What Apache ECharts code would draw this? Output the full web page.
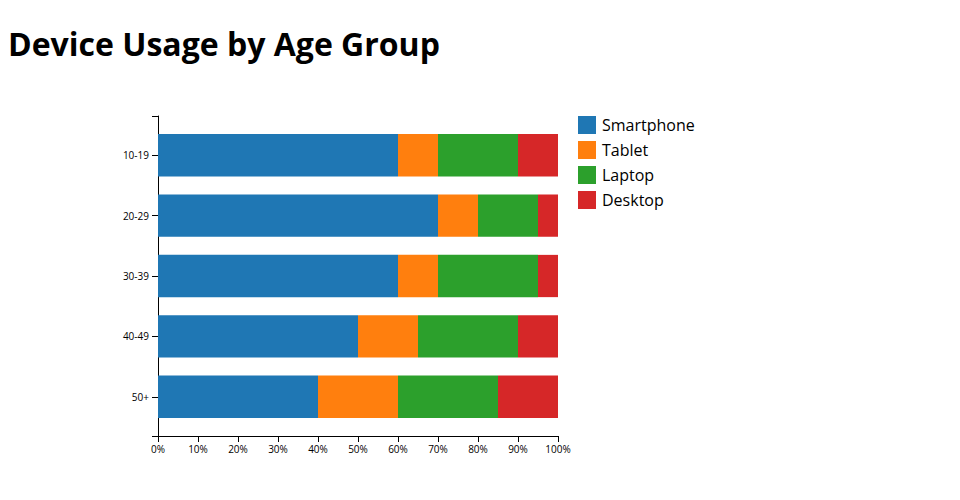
<!DOCTYPE html>
<html>
<head>
<meta charset="utf-8">
<script src="https://cdn.jsdelivr.net/npm/echarts@6/dist/echarts.min.js"></script>
<style>
html,body{margin:0;padding:0;background:#fff;}
#chart{width:960px;height:500px;}
</style>
</head>
<body>
<div id="chart"></div>
<script>
const categories = ['10-19', '20-29', '30-39', '40-49', '50+'];
const smartphone = [60, 70, 60, 50, 40];
const tablet = [10, 10, 10, 15, 20];
const laptop = [20, 15, 25, 25, 25];
const desktop = [10, 5, 5, 10, 15];
const seriesNames = ['Smartphone', 'Tablet', 'Laptop', 'Desktop'];
const colors = ['#1f77b4', '#ff7f0e', '#2ca02c', '#d62728'];
const xTicks = [0, 100, 10];

const chart = echarts.init(document.getElementById('chart'), null, {renderer: 'svg'});
const font = 'Open Sans';
const step = 320 / 5.3;
const innerTop = 116 + 0.15 * step;
const seriesData = [smartphone, tablet, laptop, desktop];

chart.setOption({
  animation: false,
  color: colors,
  textStyle: {fontFamily: font},
  title: {
    text: 'Device Usage by Age Group',
    left: 8, top: 27, padding: 0,
    textStyle: {fontFamily: font, fontSize: 32, fontWeight: 'bold', color: '#000'}
  },
  legend: {
    orient: 'vertical',
    left: 578, top: 116, padding: 0,
    itemWidth: 18, itemHeight: 18, itemGap: 7,
    icon: 'rect',
    data: seriesNames,
    textStyle: {fontFamily: font, fontSize: 16, color: '#000', padding: [0, 0, 0, 1]}
  },
  grid: [
    {left: 158, width: 400, top: innerTop, height: step * 5, containLabel: false},
    {left: 158, width: 400, top: 116, height: 320, containLabel: false}
  ],
  xAxis: [
    {gridIndex: 0, type: 'value', min: xTicks[0], max: xTicks[1], show: false},
    {gridIndex: 1, type: 'value', min: xTicks[0], max: xTicks[1], interval: xTicks[2],
      axisLine: {show: true, lineStyle: {color: '#000', width: 1}},
      axisTick: {show: true, length: 6, lineStyle: {color: '#000'}},
      splitLine: {show: false},
      axisLabel: {formatter: '{value}%', fontFamily: font, fontSize: 10, color: '#000', margin: 8}
    }
  ],
  yAxis: [
    {gridIndex: 0, type: 'category', data: categories, inverse: true,
      axisLine: {show: false},
      axisTick: {show: true, alignWithLabel: true, length: 6, lineStyle: {color: '#000'}},
      axisLabel: {fontFamily: font, fontSize: 10, color: '#000', margin: 9},
      splitLine: {show: false}
    },
    {gridIndex: 1, type: 'value', min: 0, max: 1, interval: 1,
      axisLine: {show: true, lineStyle: {color: '#000', width: 1}},
      axisTick: {show: true, length: 6, lineStyle: {color: '#000'}},
      axisLabel: {show: false},
      splitLine: {show: false}
    }
  ],
  series: seriesNames.map((name, i) => ({
    name: name,
    type: 'bar',
    stack: 'total',
    xAxisIndex: 0, yAxisIndex: 0,
    barCategoryGap: '30%',
    data: seriesData[i],
    itemStyle: {color: colors[i]},
    emphasis: {disabled: true}
  }))
});
</script>
</body>
</html>
